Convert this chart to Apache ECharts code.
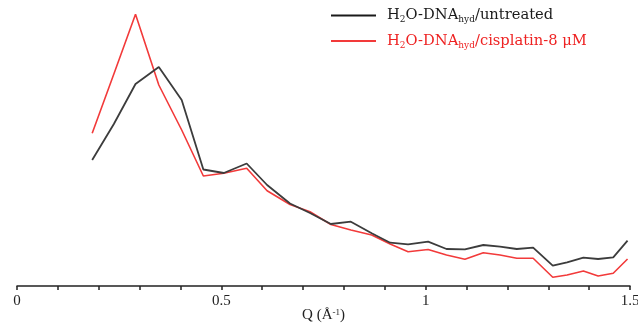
<!DOCTYPE html>
<html>
<head>
<meta charset="utf-8">
<script src="https://cdn.jsdelivr.net/npm/echarts@6/dist/echarts.min.js"></script>
<style>
html,body{margin:0;padding:0;background:#fff;}
#c{width:638px;height:323px;}
</style>
</head>
<body>
<div id="c"></div>
<script>
// Q values (Å^-1)
var qValues = [0.184,0.237,0.290,0.347,0.403,0.456,0.506,0.562,0.612,0.668,0.717,0.768,0.817,0.868,0.913,0.957,1.006,1.051,1.096,1.141,1.182,1.223,1.263,1.311,1.346,1.386,1.422,1.459,1.494];
// Intensity (arbitrary units)
var untreated = [126,162,202,219,186,116.5,113,122.5,101,82.5,73,62,64.3,52.7,43.3,41.7,44.3,37,36.7,41,39.3,37,38.3,20.3,23.7,28.3,27,28.7,45.3];
var cisplatin = [152.7,212,271.7,201,156,110,112.7,117.7,95.3,81.5,74.3,61.5,56,51,42,34.3,36.5,31,26.7,33.3,31,27.7,27.7,8.7,11,15,10,12.7,27];
var xTicks = [0, 0.5, 1, 1.5];

function pairs(vals){ return qValues.map(function(q,i){ return [q, vals[i]]; }); }

var serif = "'DejaVu Serif', 'Liberation Serif', serif";
var serif2 = "'Liberation Serif', 'DejaVu Serif', serif";
var chart = echarts.init(document.getElementById('c'), null, {renderer:'canvas'});
chart.setOption({
  animation:false,
  backgroundColor:'#fff',
  grid:{left:17, right:8, top:0, bottom:37, containLabel:false, outerBoundsMode:'none'},
  legend:{
    orient:'vertical', left:331, top:8, padding:0, itemWidth:45, itemHeight:2, itemGap:9,
    icon:'rect',
    data:[{name:'untreated'},{name:'cisplatin'}],
    formatter:function(n){
      if(n==='untreated') return '{a|H}{s|2}{a|O-DNA}{s|hyd}{a|/untreated}';
      return '{ar|H}{sr|2}{ar|O-DNA}{sr|hyd}{ar|/cisplatin-8 μM}';
    },
    textStyle:{
      fontFamily:serif, padding:[0,0,0,6],
      rich:{
        a:{fontFamily:serif,fontSize:14.7,color:'#1a1a1a',lineHeight:18},
        s:{fontFamily:serif,fontSize:9,color:'#1a1a1a',lineHeight:12,verticalAlign:'bottom'},
        ar:{fontFamily:serif,fontSize:14.7,color:'#ee2222',lineHeight:18},
        sr:{fontFamily:serif,fontSize:9,color:'#ee2222',lineHeight:12,verticalAlign:'bottom'}
      }
    }
  },
  xAxis:{
    type:'value', min:0, max:1.5, interval:0.1,
    name:'Q (Å{sup|-1})', nameLocation:'middle', nameGap:22, nameMoveOverlap:false,
    nameTextStyle:{fontFamily:serif2,fontSize:15,color:'#222',
      rich:{sup:{fontFamily:serif2,fontSize:9,color:'#222',verticalAlign:'top',padding:[0,0,6,0]}}},
    axisLine:{show:true,onZero:false,lineStyle:{color:'#222',width:1.5}},
    axisTick:{show:true,inside:false,length:4,lineStyle:{color:'#222',width:1.5}},
    splitLine:{show:false},
    axisLabel:{
      margin:8, fontFamily:serif2, fontSize:15, color:'#222', hideOverlap:false,
      formatter:function(v){
        for(var i=0;i<xTicks.length;i++){ if(Math.abs(v-xTicks[i])<1e-6) return String(xTicks[i]); }
        return '';
      }
    }
  },
  yAxis:{type:'value', min:0, max:286, show:false, splitLine:{show:false}},
  series:[
    {name:'cisplatin', type:'line', data:pairs(cisplatin), showSymbol:false, symbol:'none',
     lineStyle:{color:'#f23a3a',width:1.6}, itemStyle:{color:'#f23a3a'}, z:2},
    {name:'untreated', type:'line', data:pairs(untreated), showSymbol:false, symbol:'none',
     lineStyle:{color:'#3c3c3c',width:1.8}, itemStyle:{color:'#1a1a1a'}, z:3}
  ]
});
</script>
</body>
</html>
